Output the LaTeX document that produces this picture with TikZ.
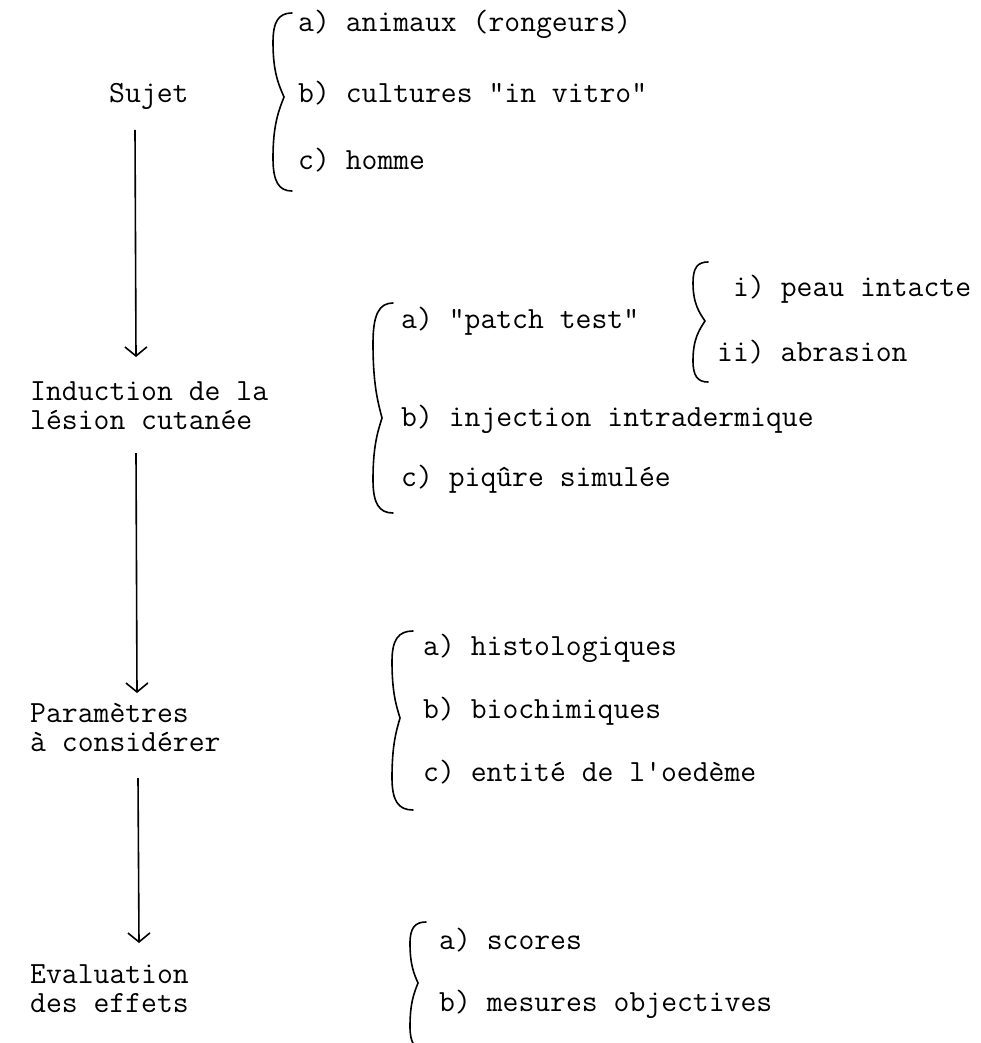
\documentclass[tikz,border=0pt]{standalone}
\usepackage{fontspec}
\usetikzlibrary{arrows.meta}

% Hand-drawn style brace: spine x, cusp x, end x, top y, cusp y, bottom y
\newcommand{\typebrace}[6]{%
  \draw[brc] (#3,#4)
    .. controls ({#1+0.3*(#3-#1)},#4) and (#1,{#4+0.1*(#5-#4)}) .. (#1,{#4+0.35*(#5-#4)})
    .. controls (#1,{#4+0.7*(#5-#4)}) and ({#2-0.5*(#2-#1)},{#5-0.15*(#5-#4)}) .. (#2,#5)
    .. controls ({#2-0.5*(#2-#1)},{#5+0.15*(#6-#5)}) and (#1,{#6-0.7*(#6-#5)}) .. (#1,{#6-0.35*(#6-#5)})
    .. controls (#1,{#6-0.1*(#6-#5)}) and ({#1+0.3*(#3-#1)},#6) .. (#3,#6);
}

\tikzset{
  txt/.style={inner sep=0pt, anchor=base west,
    font=\ttfamily\fontsize{30.8}{33}\selectfont},
  flow/.style={line width=1.6pt,
    -{Straight Barb[length=9pt,width=22pt,line width=1.6pt]}},
  brc/.style={line width=1.6pt, line cap=round},
}

\begin{document}
\begin{tikzpicture}[x=1pt, y=-1pt]
\useasboundingbox (0,0) rectangle (981,1043);

% ---- main sequence (left column) ----
\node[txt] (sujet) at (109,103) {Sujet};
\node[txt] (induc1) at (30,400) {Induction de la};
\node[txt] (induc2) at (30,429) {lésion cutanée};
\node[txt] (param1) at (30,722) {Paramètres};
\node[txt] (param2) at (30,751) {à considérer};
\node[txt] (eval1) at (30,983) {Evaluation};
\node[txt] (eval2) at (30,1012) {des effets};

\coordinate (a1s) at (135,130);
\coordinate (a1e) at (136,357);
\coordinate (a2s) at (136,453);
\coordinate (a2e) at (137,693);
\coordinate (a3s) at (138,778);
\coordinate (a3e) at (139,943);
\draw[flow] (a1s) -- (a1e);
\draw[flow] (a2s) -- (a2e);
\draw[flow] (a3s) -- (a3e);

% ---- Sujet ----
\typebrace{273}{284}{292}{13}{97}{191}
\node[txt] (s1) at (298,32) {a) animaux (rongeurs)};
\node[txt] (s2) at (298,103) {b) cultures "in vitro"};
\node[txt] (s3) at (298,170) {c) homme};

% ---- Induction ----
\typebrace{373}{382}{393}{303}{418}{513}
\node[txt] (i1) at (401,328) {a) "patch test"};
\node[txt] (i2) at (401,426) {b) injection intradermique};
\node[txt] (i3) at (401,486) {c) piqûre simulée};

\typebrace{693}{705}{708}{262}{321}{382}
\node[txt] (p1) at (733,296) {i) peau intacte};
\node[txt] (p2) at (717,361) {ii) abrasion};

% ---- Paramètres ----
\typebrace{392}{400}{413}{631}{718}{810}
\node[txt] (m1) at (423,655) {a) histologiques};
\node[txt] (m2) at (423,718) {b) biochimiques};
\node[txt] (m3) at (423,781) {c) entité de l'oedème};

% ---- Evaluation ----
\typebrace{410}{418}{426}{922}{983}{1050}
\node[txt] (e1) at (439,949) {a) scores};
\node[txt] (e2) at (439,1011) {b) mesures objectives};
\end{tikzpicture}
\end{document}
